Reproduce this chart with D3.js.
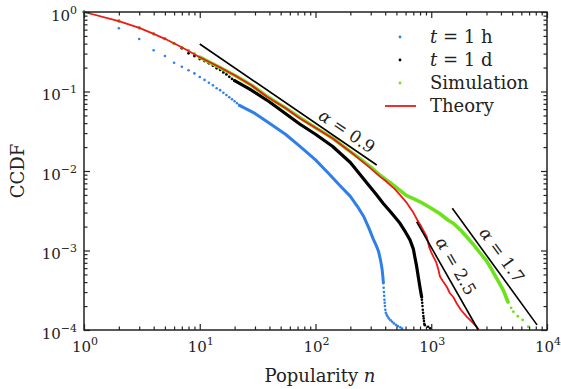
<!DOCTYPE html>
<html>
<head>
<meta charset="utf-8">
<script src="https://cdn.jsdelivr.net/npm/d3@7/dist/d3.min.js"></script>
<style>
  html, body { margin: 0; padding: 0; background: #fff; }
  svg { display: block; }
  text { font-family: "DejaVu Serif", "Liberation Serif", serif; fill: #222; }
</style>
</head>
<body>
<svg id="chart" width="561" height="389"></svg>
<script>
// ---------------- data ----------------
const xTickExps = [0, 1, 2, 3, 4];
const yTickExps = [0, -1, -2, -3, -4];

// t = 1 h : discrete dots (small n), dense body, sparse tail
const hourDots = [[1,1],[2,0.624],[3,0.457],[4,0.330],[5,0.280],[6,0.230],[7,0.205],[8,0.185],[9,0.169],[10,0.152],[11,0.140],[12,0.129],[13,0.120],[14,0.110],[15,0.104],[16,0.0966],[17,0.0904],[18,0.0846],[19,0.0798],[20,0.0753],[21,0.0711],[22,0.0670]];
const hourBand = [[22,0.0670],[30,0.053],[40,0.040],[55,0.029],[73,0.0205],[100,0.0138],[130,0.0093],[160,0.0067],[200,0.0048],[230,0.0036],[260,0.0027],[290,0.0019],[315,0.00140],[335,0.00115],[350,0.00098],[365,0.00075],[375,0.00060],[382,0.00047],[386,0.00039]];
const hourTail = [[388,0.00034],[390,0.00030],[392,0.00027],[394,0.00024],[396,0.00022],[398,0.00020],[401,0.00018],[405,0.000165],[412,0.000155],[420,0.000148],[430,0.000140],[445,0.000133],[460,0.000127],[475,0.000121],[495,0.000116],[515,0.000112],[540,0.000108],[560,0.000104]];

// t = 1 d
const dayDots = [[1,1],[2,0.77],[3,0.63],[4,0.53],[5,0.46],[6,0.40],[7,0.35],[8,0.302],[9,0.279],[10,0.256],[11,0.242],[12,0.226],[13,0.211],[14,0.196],[15,0.187],[16,0.174],[17,0.164],[18,0.153],[19,0.144],[20,0.137]];
const dayBand = [[20,0.137],[27,0.107],[38,0.078],[52,0.056],[73,0.039],[100,0.029],[140,0.0205],[200,0.0128],[277,0.0071],[330,0.0052],[385,0.0039],[450,0.0030],[537,0.0022],[600,0.0017],[655,0.00136],[700,0.00105],[720,0.00084],[745,0.00065],[770,0.00048],[800,0.00034],[826,0.00026]];
const dayTail = [[830,0.00024],[835,0.00022],[840,0.00020],[845,0.00018],[850,0.000165],[855,0.000150],[860,0.000140],[865,0.000130],[870,0.000120],[880,0.000115],[940,0.000110],[980,0.000105]];

// Simulation
const simDots = [[1,1],[2,0.77],[3,0.63],[4,0.53],[5,0.46],[6,0.40],[7,0.36],[8,0.33],[9,0.30],[10,0.27]];
const simBand = [[10,0.27],[15,0.20],[20,0.16],[28,0.12],[38,0.087],[55,0.062],[73,0.047],[100,0.035],[140,0.026],[200,0.0175],[250,0.0138],[300,0.0112],[350,0.0092],[400,0.0079],[450,0.0070],[537,0.0057],[613,0.0049],[700,0.0045],[800,0.0041],[1000,0.0034],[1190,0.0029],[1400,0.0024],[1550,0.0022],[1800,0.0018],[2020,0.00149],[2300,0.00120],[2640,0.00093],[3000,0.00074],[3220,0.000625],[3675,0.000447],[4190,0.000318],[4600,0.000225]];
const simTail = [[4900,0.00019],[5120,0.00017],[5600,0.000149],[6150,0.000134],[6890,0.00011]];

// Theory
const theory = [[1,1],[2,0.77],[3,0.63],[4,0.53],[5,0.46],[7,0.36],[10,0.27],[15,0.20],[20,0.16],[28,0.12],[38,0.086],[55,0.062],[73,0.046],[100,0.035],[142,0.0255],[200,0.0175],[241,0.0140],[300,0.0108],[361,0.0085],[400,0.0076],[440,0.0067],[480,0.0060],[537,0.0050],[613,0.0040],[700,0.0030],[760,0.0024],[820,0.0020],[870,0.0017],[914,0.00149],[960,0.0011],[1000,0.00095],[1042,0.00084],[1100,0.00072],[1150,0.00058],[1190,0.00047],[1250,0.00042],[1360,0.00035],[1450,0.00029],[1550,0.00026],[1656,0.000217],[1800,0.00018],[2024,0.000147],[2200,0.00013],[2465,0.00011],[2560,0.000102]];

// reference power-law guides
const guideLines = [
  {label: "0.9", pts: [[10,0.396],[338,0.0119]]},
  {label: "2.5", pts: [[749,0.0023],[2548,0.0001]]},
  {label: "1.7", pts: [[1520,0.0034],[8200,0.000116]]}
];

const legendItems = [
  {name: "t = 1 h", kind: "dot", color: "#2f7fe8"},
  {name: "t = 1 d", kind: "dot", color: "#000000"},
  {name: "Simulation", kind: "dot", color: "#6ce21a"},
  {name: "Theory", kind: "line", color: "#f01818"}
];

// ---------------- drawing ----------------
const svg = d3.select("#chart");
const L = 84, R = 547, T = 12, B = 330;
const x = d3.scaleLog().domain([1, 1e4]).range([L, R]);
const y = d3.scaleLog().domain([1e-4, 1]).range([B, T]);

const colors = {hour: "#2f7fe8", day: "#000000", sim: "#6ce21a", theory: "#f01818"};

const majorX = xTickExps.map(e => Math.pow(10, e));
const majorY = yTickExps.map(e => Math.pow(10, e));
const minorX = [], minorY = [];
for (let e = 0; e < 4; e++) for (let m = 2; m <= 9; m++) minorX.push(m * Math.pow(10, e));
for (let e = -4; e < 0; e++) for (let m = 2; m <= 9; m++) minorY.push(m * Math.pow(10, e));

const plot = svg.append("g");
const line = d3.line().x(d => x(d[0])).y(d => y(d[1]));

function band(data, color, w) {
  plot.append("path").datum(data).attr("d", line)
    .attr("fill", "none").attr("stroke", color).attr("stroke-width", w)
    .attr("stroke-linejoin", "round").attr("stroke-linecap", "round");
}
function dots(data, color, r) {
  plot.append("g").selectAll("circle").data(data).join("circle")
    .attr("cx", d => x(d[0])).attr("cy", d => y(d[1])).attr("r", r).attr("fill", color);
}

band(hourBand, colors.hour, 3);
dots(hourDots, colors.hour, 1.3);
dots(hourTail, colors.hour, 1.3);

band(dayBand, colors.day, 3.2);
dots(dayDots, colors.day, 1.4);
dots(dayTail, colors.day, 1.3);

band(simBand, colors.sim, 3.6);
dots(simDots, colors.sim, 1.5);
dots(simTail, colors.sim, 1.4);

plot.append("path").datum(theory).attr("d", line)
  .attr("fill", "none").attr("stroke", colors.theory).attr("stroke-width", 1.8)
  .attr("stroke-linejoin", "round");

guideLines.forEach(g => {
  plot.append("path").datum(g.pts).attr("d", line)
    .attr("fill", "none").attr("stroke", "#000").attr("stroke-width", 1.6);
});

// guide labels
const labelPos = [
  {cx: 347, cy: 131, rot: 34},
  {cx: 456, cy: 266, rot: 60},
  {cx: 502, cy: 255, rot: 54}
];
guideLines.forEach((g, i) => {
  const p = labelPos[i];
  const t = svg.append("text")
    .attr("transform", `translate(${p.cx},${p.cy}) rotate(${p.rot})`)
    .attr("text-anchor", "middle").attr("dy", "0.35em")
    .attr("font-size", 17);
  t.append("tspan").attr("font-style", "italic").text("α");
  t.append("tspan").text(" = " + g.label);
});

// axes (inward ticks on all four sides)
function addAxis(axisFn, scale, vals, size, transform) {
  svg.append("g").attr("transform", transform)
    .call(axisFn(scale).tickValues(vals).tickSize(-size).tickSizeOuter(0).tickFormat(""))
    .call(g => g.select(".domain").remove())
    .call(g => g.selectAll("line").attr("stroke", "#222").attr("stroke-width", 1.2));
}
addAxis(d3.axisBottom, x, majorX, 6, `translate(0,${B})`);
addAxis(d3.axisBottom, x, minorX, 3.5, `translate(0,${B})`);
addAxis(d3.axisTop, x, majorX, 6, `translate(0,${T})`);
addAxis(d3.axisTop, x, minorX, 3.5, `translate(0,${T})`);
addAxis(d3.axisLeft, y, majorY, 6, `translate(${L},0)`);
addAxis(d3.axisLeft, y, minorY, 3.5, `translate(${L},0)`);
addAxis(d3.axisRight, y, majorY, 6, `translate(${R},0)`);
addAxis(d3.axisRight, y, minorY, 3.5, `translate(${R},0)`);

svg.append("rect").attr("x", L).attr("y", T).attr("width", R - L).attr("height", B - T)
  .attr("fill", "none").attr("stroke", "#222").attr("stroke-width", 1.5);

// tick labels
function powLabel(sel, e) {
  sel.append("tspan").text("10");
  sel.append("tspan").attr("dy", -7).attr("font-size", 11)
    .text(e < 0 ? "\u2212" + Math.abs(e) : String(e));
}
xTickExps.forEach(e => {
  const t = svg.append("text").attr("x", x(Math.pow(10, e)) + 1).attr("y", B + 22)
    .attr("text-anchor", "middle").attr("font-size", 15);
  powLabel(t, e);
});
yTickExps.forEach(e => {
  const t = svg.append("text").attr("x", 77).attr("y", y(Math.pow(10, e)) + 8.5)
    .attr("text-anchor", "end").attr("font-size", 15);
  powLabel(t, e);
});

// axis titles
const xt = svg.append("text").attr("x", 320).attr("y", 382).attr("text-anchor", "middle").attr("font-size", 18);
xt.append("tspan").text("Popularity ");
xt.append("tspan").attr("font-style", "italic").text("n");
svg.append("text").attr("transform", "translate(24,171) rotate(-90)")
  .attr("text-anchor", "middle").attr("font-size", 18).text("CCDF");

// legend
const legRows = [37, 60, 83, 106];
legendItems.forEach((it, i) => {
  const cy = legRows[i];
  if (it.kind === "dot") {
    svg.append("circle").attr("cx", 400).attr("cy", cy).attr("r", 1.4).attr("fill", it.color);
  } else {
    svg.append("line").attr("x1", 385).attr("x2", 416).attr("y1", cy).attr("y2", cy)
      .attr("stroke", it.color).attr("stroke-width", 1.8);
  }
  const t = svg.append("text").attr("x", 430).attr("y", cy + 6).attr("font-size", 18);
  if (it.name.startsWith("t = ")) {
    t.append("tspan").attr("font-style", "italic").text("t");
    t.append("tspan").text(it.name.slice(1));
  } else {
    t.text(it.name);
  }
});
</script>
</body>
</html>
